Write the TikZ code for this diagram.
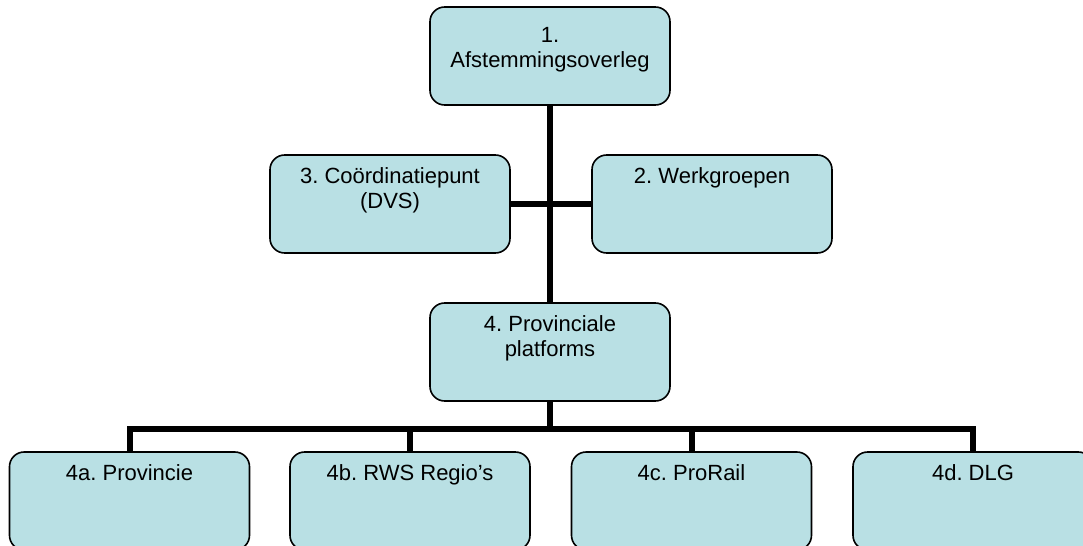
\documentclass[tikz,border=0pt]{standalone}
\usepackage{fontspec}
\setmainfont{Liberation Sans}
\frenchspacing
\definecolor{boxfill}{RGB}{185,224,228}
\begin{document}
\begin{tikzpicture}[x=0.75pt,y=-0.75pt,
  box/.style={draw,line width=1.2pt,rounded corners=11pt,fill=boxfill,
    minimum width=180pt,inner xsep=0pt,inner ysep=9.5pt,
    text height=12pt,text depth=42.5pt,align=center,
    font=\fontsize{16.5}{18.75}\selectfont},
  twolines/.style={text height=30.75pt,text depth=23.75pt},
  link/.style={line width=4.5pt}]
\useasboundingbox (0,0) rectangle (1083,546);
\clip (0,0) rectangle (1083,546);
\node[box,text height=35.75pt,text depth=18.75pt] (b1) at (550,56) {1.\\Afstemmingsoverleg};
\node[box,twolines] (b3) at (390,204) {3. Coördinatiepunt\\(DVS)};
\node[box] (b2) at (712,204) {2. Werkgroepen};
\node[box,twolines] (b4) at (550,352) {4. Provinciale\\platforms};
\node[box] (b4a) at (129.5,501) {4a. Provincie};
\node[box] (b4b) at (410,501) {4b. RWS Regio’s};
\node[box] (b4c) at (691.5,501) {4c. ProRail};
\node[box] (b4d) at (973,501) {4d. DLG};
\coordinate (bus) at (550,429);
\draw[link] (b1.south) -- (b4.north);
\draw[link] (b3.east) -- (b2.west);
\draw[link] (b4.south) -- (bus);
\draw[link] (b4a.north) |- (bus) -| (b4d.north);
\draw[link] (b4b.north) -- (b4b.north |- bus);
\draw[link] (b4c.north) -- (b4c.north |- bus);
\end{tikzpicture}
\end{document}
